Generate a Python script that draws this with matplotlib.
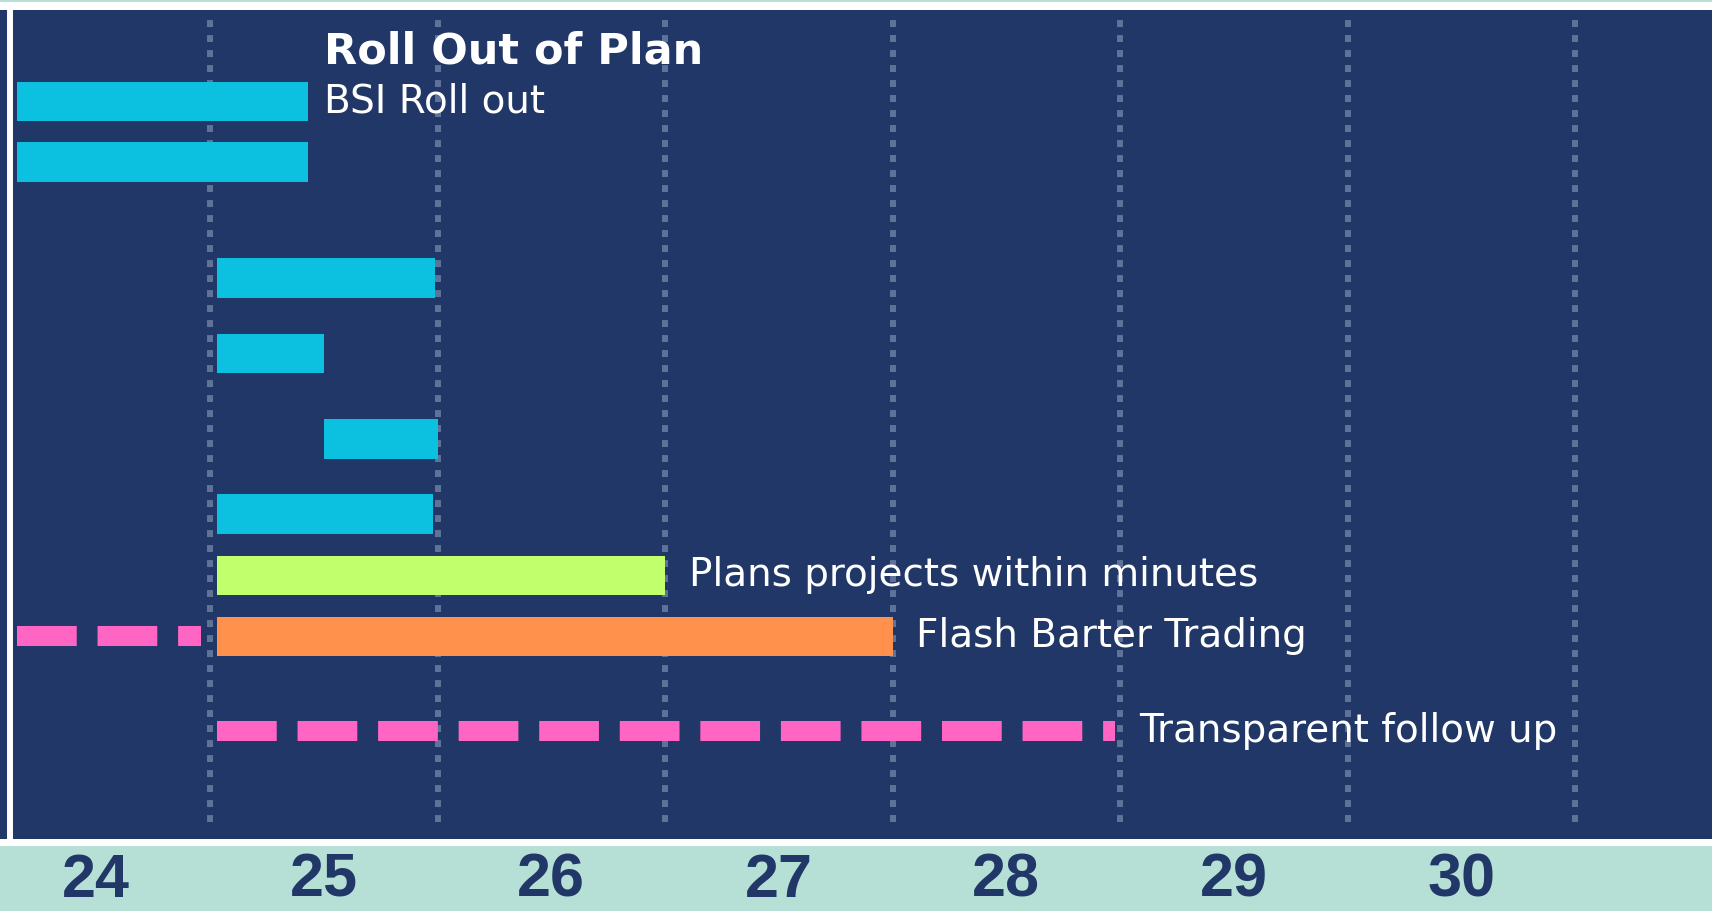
import numpy as np
import matplotlib
matplotlib.use("Agg")
import matplotlib.pyplot as plt
from matplotlib.patches import Rectangle

# data
tasks = ["BSI Roll out", "", "", "", "", "", "Plans projects within minutes",
         "Flash Barter Trading", "Transparent follow up", ""]
starts = [23.65, 23.65, 24.53, 24.53, 25.0, 24.53, 24.53, 24.53, 24.53, 23.65]
ends = [24.93, 24.93, 25.49, 25.0, 25.5, 25.48, 26.5, 27.5, 28.48, 24.46]
kinds = ["bar", "bar", "bar", "bar", "bar", "bar", "bar", "bar", "dash", "dash"]
colors = ["#0cc0df", "#0cc0df", "#0cc0df", "#0cc0df", "#0cc0df", "#0cc0df",
          "#c1ff6c", "#ff914d", "#ff66c4", "#ff66c4"]
days = [24, 25, 26, 27, 28, 29, 30]
title = "Roll Out of Plan"

# layout (row positions and label gaps, not data)
row_y = [1, 2, 3.92, 5.17, 6.58, 7.82, 8.83, 9.84, 11.41, 9.84]
label_pad = [12, 0, 0, 0, 0, 0, 17, 17, 17, 0]

navy = "#213767"
teal = "#b6e0d6"
grid_c = "#5f7398"

plt.rcParams["lines.scale_dashes"] = False
plt.rcParams["font.family"] = ["DejaVu Sans"]

W, H = 1712, 911
fig = plt.figure(figsize=(W / 100, H / 100), dpi=100)
fig.patch.set_facecolor(teal)
# white bands top and bottom of the chart area
fig.add_artist(Rectangle((0, 1 - 10 / H), 1, 8 / H, transform=fig.transFigure,
                         facecolor="white", edgecolor="none"))
fig.add_artist(Rectangle((0, (H - 846) / H), 1, 7 / H, transform=fig.transFigure,
                         facecolor="white", edgecolor="none"))

ax = fig.add_axes([0, (H - 839) / H, 1, (839 - 10) / H])
ax.set_facecolor(navy)
ax.set_xlim(24 - 96.25 / 227.5, 24 + (W - 96.25) / 227.5)
ax.set_ylim(13.19, -0.51)

for s in ["top", "right", "bottom"]:
    ax.spines[s].set_visible(False)
ax.spines["left"].set_position(("axes", 9.5 / W))
ax.spines["left"].set_color("white")
ax.spines["left"].set_linewidth(4.3)
ax.set_yticks([])

# dotted day separators
for d in days:
    ax.axvline(d + 0.5, ymin=0.02, ymax=0.99, color=grid_c, lw=4.3,
               dashes=(5, 5.8), zorder=1)

for i in range(len(tasks)):
    if kinds[i] == "bar":
        ax.barh(row_y[i], ends[i] - starts[i], left=starts[i], height=0.65,
                color=colors[i], zorder=3)
    else:
        ax.plot([starts[i], ends[i]], [row_y[i], row_y[i]], color=colors[i],
                lw=14.4, dashes=(43, 15), solid_capstyle="butt", zorder=3)
    if tasks[i]:
        ax.annotate(tasks[i], xy=(ends[i], row_y[i]), xytext=(label_pad[i], 0),
                    textcoords="offset points", va="center", ha="left",
                    color="white", fontsize=28)

ax.annotate(title, xy=(ends[0], row_y[0]), xytext=(label_pad[0], 36),
            textcoords="offset points", va="center", ha="left",
            color="white", fontsize=31, fontweight="bold")

ax.set_xticks(days)
ax.set_xticklabels([str(d) for d in days],
                   family=["Liberation Sans", "DejaVu Sans"],
                   fontweight="bold", fontsize=44, color=navy)
ax.tick_params(axis="x", length=0, pad=10)

fig.savefig("out.png", dpi=100, facecolor=fig.get_facecolor())
